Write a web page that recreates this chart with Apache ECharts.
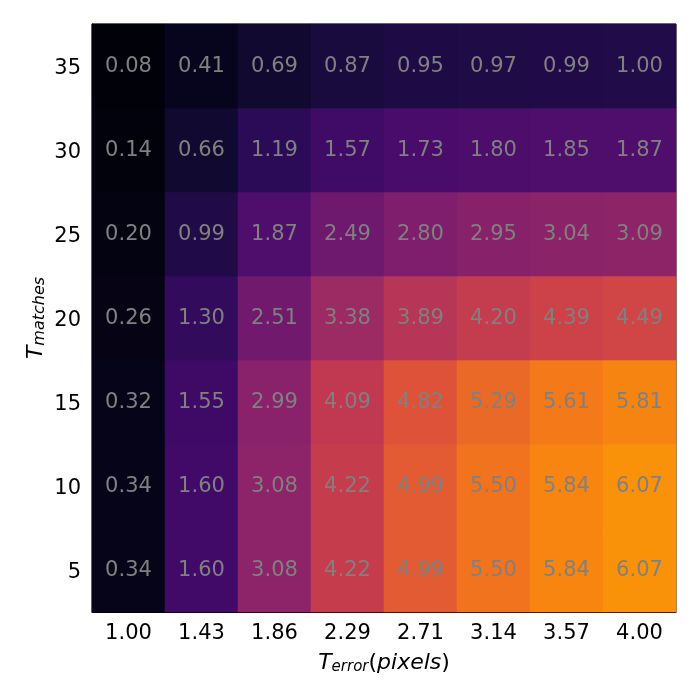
<!DOCTYPE html>
<html>
<head>
<meta charset="utf-8">
<style>html,body{margin:0;padding:0;background:#fff}#c{width:700px;height:700px}</style>
<script src="https://cdn.jsdelivr.net/npm/echarts@6/dist/echarts.min.js"></script>
</head>
<body>
<div id="c"></div>
<script>
const xLabels = ['1.00','1.43','1.86','2.29','2.71','3.14','3.57','4.00'];
const yLabels = ['5','10','15','20','25','30','35'];
const row5  = [0.34,1.60,3.08,4.22,4.99,5.50,5.84,6.07];
const row10 = [0.34,1.60,3.08,4.22,4.99,5.50,5.84,6.07];
const row15 = [0.32,1.55,2.99,4.09,4.82,5.29,5.61,5.81];
const row20 = [0.26,1.30,2.51,3.38,3.89,4.20,4.39,4.49];
const row25 = [0.20,0.99,1.87,2.49,2.80,2.95,3.04,3.09];
const row30 = [0.14,0.66,1.19,1.57,1.73,1.80,1.85,1.87];
const row35 = [0.08,0.41,0.69,0.87,0.95,0.97,0.99,1.00];
const rows = [row5,row10,row15,row20,row25,row30,row35];
const inferno = ['#000004','#07051d','#160b39','#2c0b58','#420a68','#57106e','#6a176e','#7f1e6c','#932667','#a82e5f','#bc3754','#cc4248','#dd513a','#e9652a','#f37819','#f98e09','#fca50a','#fbbd24','#f6d746','#f5ec6f','#fcffa4'];

const data = [];
rows.forEach((r, y) => r.forEach((v, x) => data.push([x, y, v])));

const font = 'DejaVu Sans';
const chart = echarts.init(document.getElementById('c'), null, {renderer:'canvas'});
chart.setOption({
  animation: false,
  backgroundColor: '#fff',
  textStyle: {fontFamily: font},
  grid: {left: 92, right: 24, top: 24, bottom: 88, show: true, borderColor: '#000', borderWidth: 1, backgroundColor: 'transparent'},
  xAxis: {
    type: 'category', data: xLabels, boundaryGap: true,
    axisTick: {alignWithLabel: true, length: 5, lineStyle: {color: '#000', width: 1}},
    axisLine: {show: true, lineStyle: {color: '#000', width: 1}},
    axisLabel: {color: '#000', fontSize: 21, margin: 9, fontFamily: font, interval: 0, padding: [2,0,0,0]},
    splitLine: {show: false},
    name: '{t|T}{s|error}{n|(}{i|pixels}{n|)}',
    nameLocation: 'middle', nameGap: 40,
    nameTextStyle: {rich: {
      t: {fontSize: 22, fontStyle: 'italic', fontFamily: font, color: '#000'},
      s: {fontSize: 15, fontStyle: 'italic', fontFamily: font, color: '#000', padding: [8,0,0,0]},
      n: {fontSize: 22, fontFamily: font, color: '#000'},
      i: {fontSize: 22, fontStyle: 'italic', fontFamily: font, color: '#000'}
    }}
  },
  yAxis: {
    type: 'category', data: yLabels, boundaryGap: true,
    axisTick: {alignWithLabel: true, length: 5, lineStyle: {color: '#000', width: 1}},
    axisLine: {show: true, lineStyle: {color: '#000', width: 1}},
    axisLabel: {color: '#000', fontSize: 21, margin: 11, fontFamily: font, interval: 0,
      formatter: '{a|{value}}',
      rich: {a: {color: '#000', fontSize: 21, fontFamily: font, padding: [6,0,0,0]}}},
    splitLine: {show: false},
    name: '{t|T}{s|matches}',
    nameLocation: 'middle', nameGap: 44, nameRotate: 90, nameMoveOverlap: false,
    nameTextStyle: {rich: {
      t: {fontSize: 22, fontStyle: 'italic', fontFamily: font, color: '#000'},
      s: {fontSize: 16, fontStyle: 'italic', fontFamily: font, color: '#000', padding: [8,0,0,0]}
    }}
  },
  visualMap: {show: false, min: 0, max: 8, dimension: 2, inRange: {color: inferno}},
  series: [{
    type: 'heatmap', data: data,
    itemStyle: {borderWidth: 0},
    label: {show: true, color: '#808080', fontSize: 21, fontFamily: font, offset: [0,1],
      formatter: p => p.value[2].toFixed(2)},
    emphasis: {disabled: true}
  }]
});
</script>
</body>
</html>
